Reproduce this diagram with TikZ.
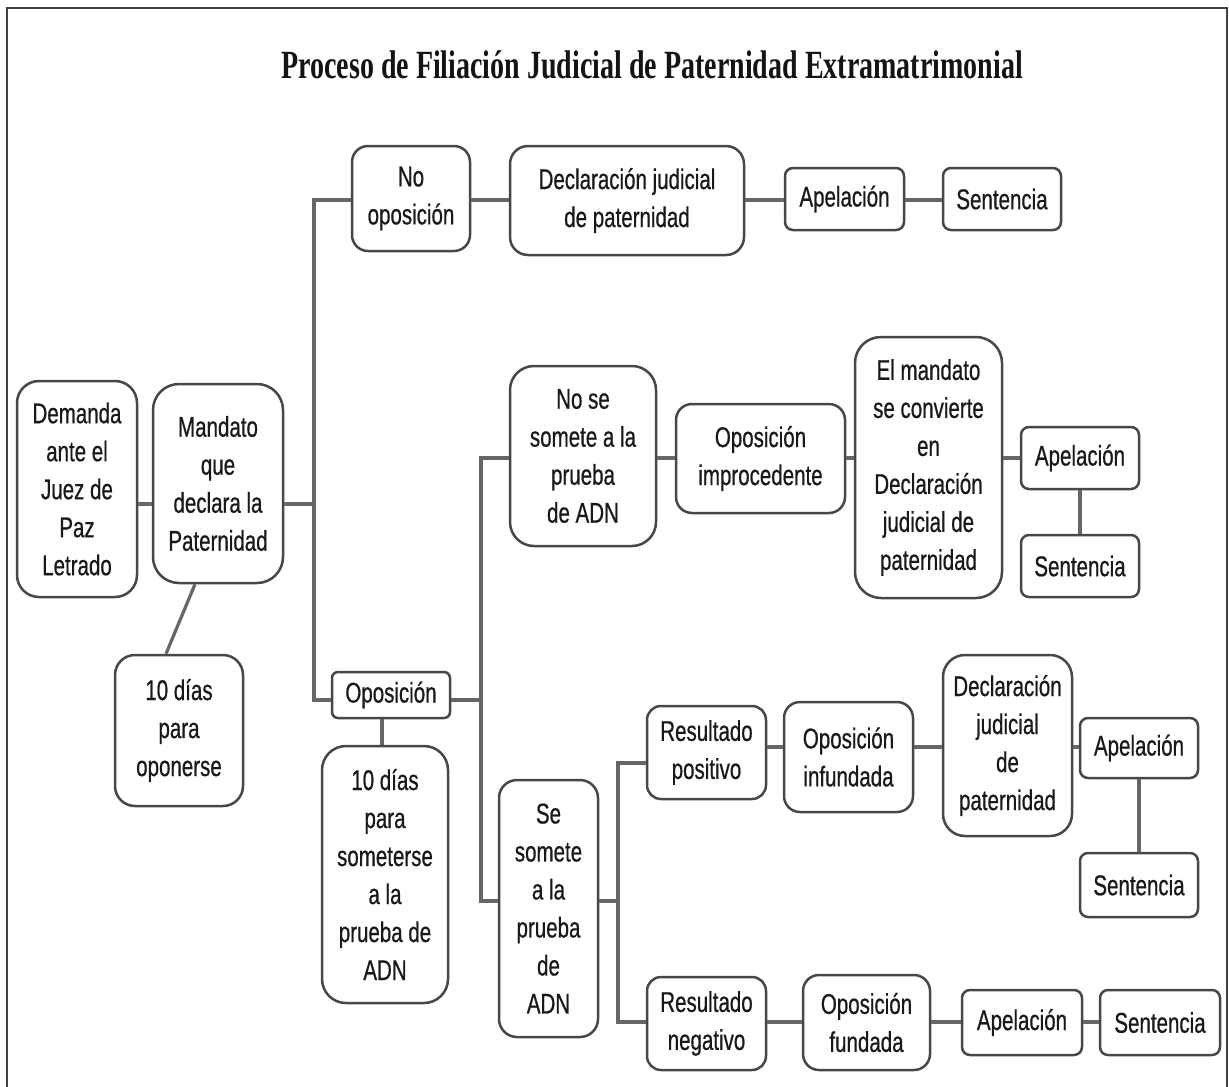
\documentclass[tikz,border=0pt]{standalone}
\usepackage{fontspec}
\setmainfont{Liberation Sans}[FakeStretch=0.72,FakeBold=0.6]
\newfontfamily\titlefont{Liberation Serif}[FakeStretch=0.70]
\begin{document}
\begin{tikzpicture}[x=1pt,y=-1pt,
  bx/.style={draw=black!72, line width=2.5pt, fill=white, rounded corners=#1,
    inner sep=0pt, align=center, text=black!90,
    font=\fontsize{28.5}{38}\selectfont},
  bx/.default=14pt,
  cn/.style={draw=black!60, line width=3.2pt},
  frame/.style={draw=black!75, line width=2.5pt}]
\useasboundingbox (0,0) rectangle (1229,1087);
\draw[frame] (7,1095) -- (7,8) -- (1227,8) -- (1227,1095);

\node[anchor=base, font=\titlefont\fontsize{40}{48}\bfseries\selectfont, text=black!92] (title) at (652,78)
  {Proceso de Filiación Judicial de Paternidad Extramatrimonial};

% row and column coordinates
\coordinate (yA) at (0,200);
\coordinate (yB) at (0,504);
\coordinate (yC) at (0,700);
\coordinate (yD) at (0,458);
\coordinate (yE) at (0,901);
\coordinate (yF) at (0,763);
\coordinate (yG) at (0,1022);
\coordinate (yH) at (0,747);
\coordinate (xT1) at (314,0);
\coordinate (xT2) at (481,0);
\coordinate (xT3) at (618,0);
\coordinate (xV1) at (382,0);
\coordinate (xD1) at (195,0);
\coordinate (xD2) at (166,0);

% nodes
\node[bx=16pt, minimum width=118, minimum height=105] (noop) at (411,198.5) {No\\oposición};
\node[bx=18pt, minimum width=234, minimum height=109] (decl1) at (627,200.5) {Declaración judicial\\de paternidad};
\node[bx=8pt, minimum width=119, minimum height=62] (ap1) at (844.5,199) {Apelación};
\node[bx=8pt, minimum width=118, minimum height=62] (sen1) at (1002,199) {Sentencia};

\node[bx=22pt, minimum width=120, minimum height=216] (dem) at (77,489) {Demanda\\ante el\\Juez de\\Paz\\Letrado};
\node[bx=26pt, minimum width=130, minimum height=199] (mand) at (218,483.5) {Mandato\\que\\declara la\\Paternidad};
\node[bx=20pt, minimum width=128, minimum height=151] (diez1) at (179,730.5) {10 días\\para\\oponerse};

\node[bx=6pt, minimum width=118, minimum height=46] (opos) at (391,695) {Oposición};
\node[bx=24pt, minimum width=126, minimum height=257] (diez2) at (385,874.5) {10 días\\para\\someterse\\a la\\prueba de\\ADN};

\node[bx=24pt, minimum width=146, minimum height=180] (nose) at (583,456) {No se\\somete a la\\prueba\\de ADN};
\node[bx=16pt, minimum width=169, minimum height=109] (improc) at (760.5,458.5) {Oposición\\improcedente};
\node[bx=26pt, minimum width=147, minimum height=261] (mandc) at (928.5,467.5) {El mandato\\se convierte\\en\\Declaración\\judicial de\\paternidad};
\node[bx=8pt, minimum width=118, minimum height=62] (ap2) at (1080,458) {Apelación};
\node[bx=8pt, minimum width=118, minimum height=62] (sen2) at (1080,566) {Sentencia};

\node[bx=18pt, minimum width=99, minimum height=257] (sesom) at (548.5,908.5) {Se\\somete\\a la\\prueba\\de\\ADN};
\node[bx=14pt, minimum width=119, minimum height=93] (respos) at (706.5,752.5) {Resultado\\positivo};
\node[bx=16pt, minimum width=129, minimum height=110] (infund) at (848.5,757) {Oposición\\infundada};
\node[bx=22pt, minimum width=129, minimum height=181] (decl2) at (1007.5,745.5) {Declaración\\judicial\\de\\paternidad};
\node[bx=8pt, minimum width=118, minimum height=60] (ap3) at (1139,748) {Apelación};
\node[bx=8pt, minimum width=118, minimum height=64] (sen3) at (1139,885) {Sentencia};

\node[bx=14pt, minimum width=119, minimum height=93] (resneg) at (706.5,1023.5) {Resultado\\negativo};
\node[bx=16pt, minimum width=127, minimum height=95] (fund) at (866.5,1022.5) {Oposición\\fundada};
\node[bx=8pt, minimum width=120, minimum height=65] (ap4) at (1022,1022.5) {Apelación};
\node[bx=8pt, minimum width=120, minimum height=65] (sen4) at (1160,1022.5) {Sentencia};

% connectors
\draw[cn] (noop.east |- yA) -- (decl1.west |- yA);
\draw[cn] (decl1.east |- yA) -- (ap1.west |- yA);
\draw[cn] (ap1.east |- yA) -- (sen1.west |- yA);

\draw[cn] (dem.east |- yB) -- (mand.west |- yB);
\draw[cn] (mand.east |- yB) -- (xT1 |- yB);
\draw[cn] (noop.west |- yA) -- (xT1 |- yA) -- (xT1 |- yC) -- (opos.west |- yC);
\draw[cn] (mand.south -| xD1) -- (diez1.north -| xD2);
\draw[cn] (opos.south -| xV1) -- (diez2.north -| xV1);

\draw[cn] (opos.east |- yC) -- (xT2 |- yC);
\draw[cn] (nose.west |- yD) -- (xT2 |- yD) -- (xT2 |- yE) -- (sesom.west |- yE);
\draw[cn] (nose.east |- yD) -- (improc.west |- yD);
\draw[cn] (improc.east |- yD) -- (mandc.west |- yD);
\draw[cn] (mandc.east |- yD) -- (ap2.west |- yD);
\draw[cn] (ap2.south) -- (sen2.north);

\draw[cn] (sesom.east |- yE) -- (xT3 |- yE);
\draw[cn] (respos.west |- yF) -- (xT3 |- yF) -- (xT3 |- yG) -- (resneg.west |- yG);
\draw[cn] (respos.east |- yH) -- (infund.west |- yH);
\draw[cn] (infund.east |- yH) -- (decl2.west |- yH);
\draw[cn] (decl2.east |- yH) -- (ap3.west |- yH);
\draw[cn] (ap3.south) -- (sen3.north);

\draw[cn] (resneg.east |- yG) -- (fund.west |- yG);
\draw[cn] (fund.east |- yG) -- (ap4.west |- yG);
\draw[cn] (ap4.east |- yG) -- (sen4.west |- yG);
\end{tikzpicture}
\end{document}
